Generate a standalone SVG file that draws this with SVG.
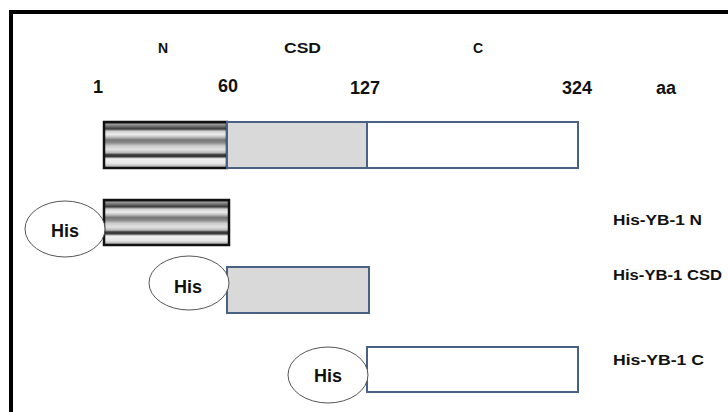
<svg xmlns="http://www.w3.org/2000/svg" width="728" height="412" viewBox="0 0 728 412">
  <style>
    text { font-family: "Liberation Sans", Arial, sans-serif; font-weight: bold; fill: #111; }
    .top { font-size: 14px; }
    .num { font-size: 18px; }
    .his { font-size: 18px; text-anchor: middle; }
    .lab { font-size: 14.5px; }
    .nbox { fill: url(#metal); stroke: #111; stroke-width: 2.5; }
    .csd { fill: #d9d9d9; stroke: #4a6186; stroke-width: 2; }
    .cbox { fill: #ffffff; stroke: #4a6186; stroke-width: 2; }
    .tag { fill: #ffffff; stroke: #555; stroke-width: 1; }
  </style>
  <defs>
    <linearGradient id="metal" x1="0" y1="0" x2="0" y2="1">
      <stop offset="0" stop-color="#333"/>
      <stop offset="0.05" stop-color="#9a9a9a"/>
      <stop offset="0.1" stop-color="#6a6a6a"/>
      <stop offset="0.15" stop-color="#3a3a3a"/>
      <stop offset="0.2" stop-color="#cfcfcf"/>
      <stop offset="0.27" stop-color="#ededed"/>
      <stop offset="0.33" stop-color="#bdbdbd"/>
      <stop offset="0.39" stop-color="#767676"/>
      <stop offset="0.45" stop-color="#8a8a8a"/>
      <stop offset="0.52" stop-color="#cdcdcd"/>
      <stop offset="0.6" stop-color="#e2e2e2"/>
      <stop offset="0.67" stop-color="#b8b8b8"/>
      <stop offset="0.71" stop-color="#3a3a3a"/>
      <stop offset="0.75" stop-color="#3a3a3a"/>
      <stop offset="0.8" stop-color="#f2f2f2"/>
      <stop offset="0.9" stop-color="#e6e6e6"/>
      <stop offset="1" stop-color="#9a9a9a"/>
    </linearGradient>
  </defs>

  <rect x="11" y="12" width="740" height="420" fill="none" stroke="#000" stroke-width="4"/>

  <g id="header">
    <text class="top" x="158" y="53">N</text>
    <text class="top" x="284" y="53" textLength="37" lengthAdjust="spacingAndGlyphs">CSD</text>
    <text class="top" x="473" y="53">C</text>
    <text class="num" x="93" y="93">1</text>
    <text class="num" x="218" y="92">60</text>
    <text class="num" x="350" y="94">127</text>
    <text class="num" x="562" y="94">324</text>
    <text class="num" x="656" y="94">aa</text>
  </g>

  <g id="full-length">
    <rect class="nbox" x="104" y="122" width="123" height="46"/>
    <rect class="csd" x="227" y="122" width="140" height="46"/>
    <rect class="cbox" x="367" y="122" width="211" height="46"/>
  </g>

  <g id="his-yb1-n">
    <rect class="nbox" x="104" y="200" width="125" height="45"/>
    <ellipse class="tag" cx="65" cy="229" rx="40" ry="28"/>
    <text class="his" x="65" y="237">His</text>
    <text class="lab" x="613" y="225" textLength="89" lengthAdjust="spacingAndGlyphs">His-YB-1 N</text>
  </g>

  <g id="his-yb1-csd">
    <rect class="csd" x="227" y="267" width="142" height="46"/>
    <ellipse class="tag" cx="189" cy="283" rx="40" ry="27"/>
    <text class="his" x="188" y="293">His</text>
    <text class="lab" x="613" y="280" textLength="109" lengthAdjust="spacingAndGlyphs">His-YB-1 CSD</text>
  </g>

  <g id="his-yb1-c">
    <rect class="cbox" x="367" y="347" width="211" height="45"/>
    <ellipse class="tag" cx="328" cy="375" rx="40" ry="28"/>
    <text class="his" x="328" y="382">His</text>
    <text class="lab" x="613" y="365" textLength="91" lengthAdjust="spacingAndGlyphs">His-YB-1 C</text>
  </g>

  <g id="connectors"/>
</svg>
